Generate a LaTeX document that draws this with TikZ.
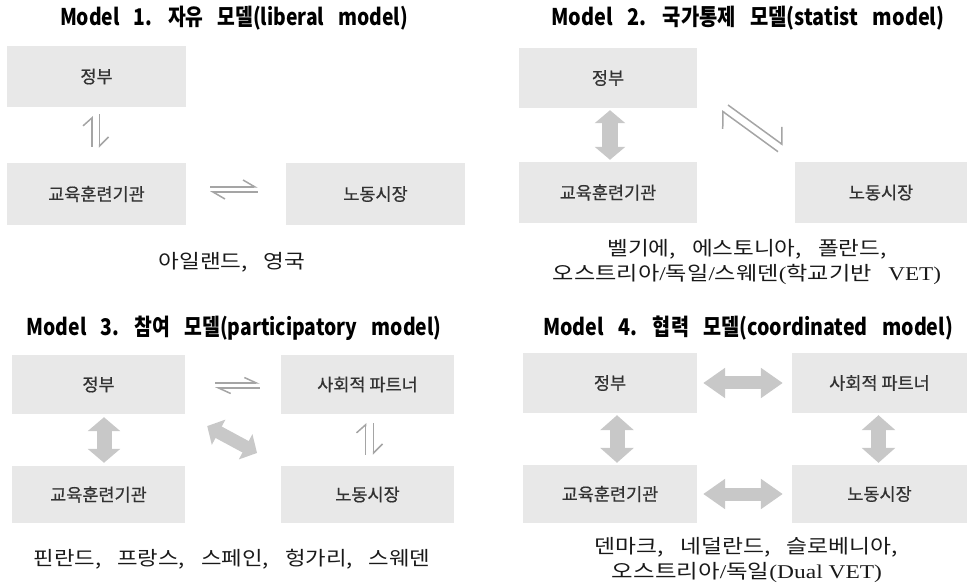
\documentclass[tikz,border=0pt]{standalone}
\usepackage{fontspec}
\usepackage{graphicx}
\setmainfont{Noto Sans CJK KR}
\newfontfamily\titfont[WordSpace=1.2]{Noto Sans CJK KR}
\newfontfamily\capfont[WordSpace=3.2]{Noto Sans CJK KR}
\newfontfamily\boxfont[FakeBold=0.6]{Noto Sans CJK KR}
\newfontfamily\serifL{Liberation Serif}
\usetikzlibrary{arrows.meta}
\definecolor{boxgray}{RGB}{232,232,232}
\definecolor{arrgray}{RGB}{200,200,200}
\definecolor{harpgray}{RGB}{165,165,165}
\definecolor{boxtext}{RGB}{50,50,50}
\tikzset{
  modelbox/.style={rectangle, fill=boxgray, inner sep=0pt, text=boxtext,
    font=\boxfont\fontsize{17.5}{20}\selectfont},
  ttltxt/.style={inner sep=0pt, text height=16pt, text depth=5pt,
    font=\titfont\bfseries\fontsize{23}{25}\selectfont},
  captxt/.style={inner sep=0pt, text height=15pt, text depth=4pt, text=black!90,
    font=\capfont\fontsize{19.5}{21}\selectfont},
  blkarrow/.style={draw=arrgray, line width=#1},
  harpline/.style={draw=harpgray, line width=1.5pt},
}
\begin{document}
\begin{tikzpicture}[x=1pt,y=-1pt]
\useasboundingbox (0,0) rectangle (967,585);

% ---------- Model 1 ----------
\node[ttltxt] (t1) at (234,20) {\resizebox{348pt}{\height}{Model 1. 자유 모델(liberal model)}};
\node[modelbox, minimum width=179pt, minimum height=61pt] (g1) at (96.5,76.5) {정부};
\node[modelbox, minimum width=179pt, minimum height=62pt] (e1) at (96.5,194) {교육훈련기관};
\node[modelbox, minimum width=179pt, minimum height=62pt] (l1) at (375.5,194) {노동시장};
\draw[harpline, -{Straight Barb[harpoon, length=12pt, width=14pt]}, shorten <=24pt, shorten >=28pt]
  ([yshift=7pt]e1.east) -- ([yshift=7pt]l1.west);
\draw[harpline, -{Straight Barb[harpoon, length=12pt, width=14pt]}, shorten <=28pt, shorten >=24pt]
  ([yshift=2pt]l1.west) -- ([yshift=2pt]e1.east);
\draw[harpline, -{Straight Barb[harpoon, length=8pt, width=18pt]}, shorten <=16pt, shorten >=9pt]
  ([xshift=-4.5pt]e1.north) -- ([xshift=-4.5pt]g1.south);
\draw[harpline, -{Straight Barb[harpoon, length=9pt, width=18pt]}, shorten <=7pt, shorten >=15pt]
  ([xshift=3pt]g1.south) -- ([xshift=3pt]e1.north);
\node[captxt] (c1) at (232,263) {\resizebox{147pt}{\height}{아일랜드, 영국}};

% ---------- Model 2 ----------
\node[ttltxt] (t2) at (748,20) {\resizebox{393pt}{\height}{Model 2. 국가통제 모델(statist model)}};
\node[modelbox, minimum width=178pt, minimum height=60pt] (g2) at (608,78) {정부};
\node[modelbox, minimum width=178pt, minimum height=61pt] (e2) at (608,192.5) {교육훈련기관};
\node[modelbox, minimum width=172pt, minimum height=61pt] (l2) at (881,192.5) {노동시장};
\draw[blkarrow=16pt, {Triangle[length=13pt,width=30pt]}-{Triangle[length=13pt,width=30pt]}, shorten <=2pt, shorten >=2pt]
  ([xshift=2pt]g2.south) -- ([xshift=2pt]e2.north);
\coordinate (d2a) at (778,151.7);
\coordinate (d2b) at (721.7,110.7);
\coordinate (d2c) at (728,105);
\coordinate (d2d) at (783,145);
\draw[harpline, -{Straight Barb[harpoon, length=10pt, width=28pt]}] (d2a) -- (d2b);
\draw[harpline, -{Straight Barb[harpoon, length=10pt, width=28pt]}] (d2c) -- (d2d);
\node[captxt] (c2a) at (747,250) {\resizebox{279pt}{\height}{벨기에, 에스토니아, 폴란드,}};
\node[captxt] (c2b) at (747,275) {\resizebox{388pt}{\height}{오스트리아{\serifL/}독일{\serifL/}스웨덴{\serifL(}학교기반 {\serifL VET)}}};

% ---------- Model 3 ----------
\node[ttltxt] (t3) at (234,330) {\resizebox{415pt}{\height}{Model 3. 참여 모델(participatory model)}};
\node[modelbox, minimum width=173pt, minimum height=59pt] (g3) at (98.5,384.5) {정부};
\node[modelbox, minimum width=173pt, minimum height=59pt] (s3) at (367.5,384.5) {사회적 파트너};
\node[modelbox, minimum width=173pt, minimum height=57pt] (e3) at (98.5,494.5) {교육훈련기관};
\node[modelbox, minimum width=173pt, minimum height=57pt] (l3) at (367.5,494.5) {노동시장};
\draw[harpline, -{Straight Barb[harpoon, length=12pt, width=11pt]}, shorten <=30pt, shorten >=21pt]
  ([yshift=1.5pt]g3.east) -- ([yshift=1.5pt]s3.west);
\draw[harpline, -{Straight Barb[harpoon, length=12pt, width=11pt]}, shorten <=21pt, shorten >=30pt]
  ([yshift=-3.5pt]s3.west) -- ([yshift=-3.5pt]g3.east);
\draw[harpline, -{Straight Barb[harpoon, length=8pt, width=18pt]}, shorten <=11pt, shorten >=9pt]
  ([xshift=-2pt]l3.north) -- ([xshift=-2pt]s3.south);
\draw[harpline, -{Straight Barb[harpoon, length=9pt, width=18pt]}, shorten <=9pt, shorten >=11pt]
  ([xshift=6pt]s3.south) -- ([xshift=6pt]l3.north);
\draw[blkarrow=15pt, {Triangle[length=14pt,width=32pt]}-{Triangle[length=14pt,width=32pt]}, shorten <=3pt, shorten >=3pt]
  ([xshift=5.5pt]g3.south) -- ([xshift=5.5pt]e3.north);
\draw[blkarrow=13pt, {Triangle[length=13pt,width=28pt]}-{Triangle[length=13pt,width=28pt]}, shorten <=25pt, shorten >=27pt]
  (g3.south east) -- (l3.north west);
\node[captxt] (c3) at (232,560) {\resizebox{397pt}{\height}{핀란드, 프랑스, 스페인, 헝가리, 스웨덴}};

% ---------- Model 4 ----------
\node[ttltxt] (t4) at (748,330) {\resizebox{410pt}{\height}{Model 4. 협력 모델(coordinated model)}};
\node[modelbox, minimum width=174pt, minimum height=60pt] (g4) at (610,383) {정부};
\node[modelbox, minimum width=175pt, minimum height=60pt] (s4) at (879.5,383) {사회적 파트너};
\node[modelbox, minimum width=174pt, minimum height=58pt] (e4) at (610,494) {교육훈련기관};
\node[modelbox, minimum width=175pt, minimum height=58pt] (l4) at (879.5,494) {노동시장};
\draw[blkarrow=13pt, {Triangle[length=22pt,width=29pt]}-{Triangle[length=22pt,width=29pt]}, shorten <=6pt, shorten >=9pt]
  (g4.east) -- (s4.west);
\draw[blkarrow=13pt, {Triangle[length=22pt,width=29pt]}-{Triangle[length=22pt,width=29pt]}, shorten <=6pt, shorten >=9pt]
  (e4.east) -- (l4.west);
\draw[blkarrow=15pt, {Triangle[length=15pt,width=33pt]}-{Triangle[length=15pt,width=33pt]}, shorten <=2pt, shorten >=2pt]
  ([xshift=7pt]g4.south) -- ([xshift=7pt]e4.north);
\draw[blkarrow=15pt, {Triangle[length=15pt,width=33pt]}-{Triangle[length=15pt,width=33pt]}, shorten <=2pt, shorten >=2pt]
  ([xshift=-1pt]s4.south) -- ([xshift=-1pt]l4.north);
\node[captxt] (c4a) at (746.5,548) {\resizebox{303pt}{\height}{덴마크, 네덜란드, 슬로베니아,}};
\node[captxt] (c4b) at (747,573) {\resizebox{270pt}{\height}{오스트리아{\serifL/}독일{\serifL(Dual VET)}}};
\end{tikzpicture}
\end{document}
